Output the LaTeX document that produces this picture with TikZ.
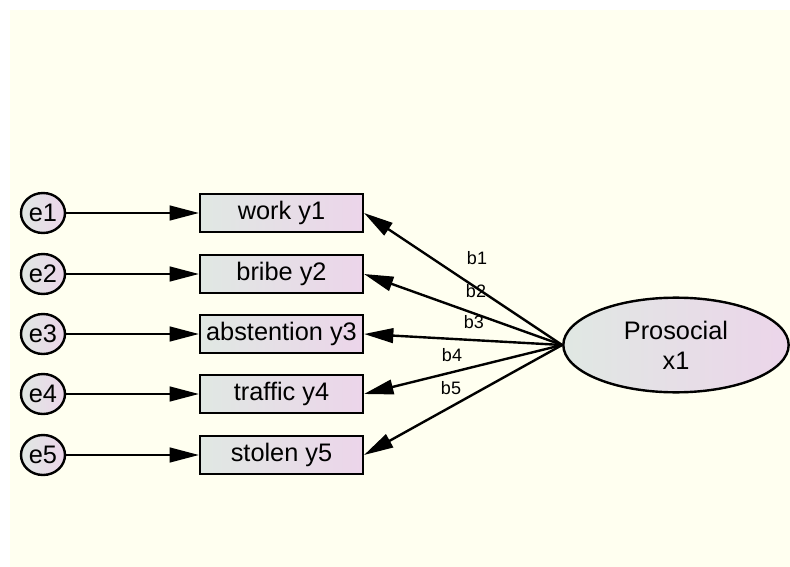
\documentclass[tikz,border=0pt]{standalone}
\usepackage{fontspec}
\setmainfont{Liberation Sans}
\usetikzlibrary{shapes.geometric,arrows.meta}
\definecolor{cream}{HTML}{FFFFF0}
\definecolor{shadegray}{HTML}{E0E8E3}
\definecolor{shadepink}{HTML}{ECD5EA}
\tikzset{
  obsbox/.style={draw,line width=1.8pt,left color=shadegray,right color=shadepink,
    minimum width=122pt,minimum height=28.5pt,inner sep=0pt,font=\fontsize{19}{21}\selectfont},
  errcirc/.style={ellipse,draw,line width=1.8pt,left color=shadegray,right color=shadepink,
    minimum width=33pt,minimum height=30pt,inner sep=0pt,font=\fontsize{19}{21}\selectfont},
  latent/.style={ellipse,draw,line width=1.8pt,left color=shadegray,right color=shadepink,
    minimum width=169pt,minimum height=71pt,inner sep=0pt,align=center,font=\fontsize{19}{22.5}\selectfont},
  arr/.style={line width=1.8pt,-{Triangle[length=22pt,width=11pt]}},
  wlabel/.style={font=\fontsize{13.5}{15}\selectfont}
}
\begin{document}
\begin{tikzpicture}[x=0.75pt,y=-0.75pt]
\useasboundingbox (0,0) rectangle (790,567);
\fill[cream] (10,10) rectangle (790,567);
% error terms
\node[errcirc] (e1) at (43,213) {e1};
\node[errcirc] (e2) at (43,274) {e2};
\node[errcirc] (e3) at (43,334) {e3};
\node[errcirc] (e4) at (43,394) {e4};
\node[errcirc] (e5) at (43,455) {e5};
% observed
\node[obsbox] (y1) at (281.5,213) {work y1};
\node[obsbox] (y2) at (281.5,274) {bribe y2};
\node[obsbox] (y3) at (281.5,334) {abstention y3};
\node[obsbox] (y4) at (281.5,394) {traffic y4};
\node[obsbox] (y5) at (281.5,455) {stolen y5};
% latent
\node[latent] (x1) at (676,345) {Prosocial\\x1};
\draw[arr] (e1)--(y1);
\draw[arr] (e2)--(y2);
\draw[arr] (e3)--(y3);
\draw[arr] (e4)--(y4);
\draw[arr] (e5)--(y5);
\draw[arr] (x1.west)--(y1.east);
\draw[arr] (x1.west)--(y2.east);
\draw[arr] (x1.west)--(y3.east);
\draw[arr] (x1.west)--(y4.east);
\draw[arr] (x1.west)--(y5.east);
\node[wlabel] (b1) at (477,258) {b1};
\node[wlabel] (b2) at (476,291) {b2};
\node[wlabel] (b3) at (474,322) {b3};
\node[wlabel] (b4) at (452,355) {b4};
\node[wlabel] (b5) at (451,388) {b5};
\end{tikzpicture}
\end{document}
